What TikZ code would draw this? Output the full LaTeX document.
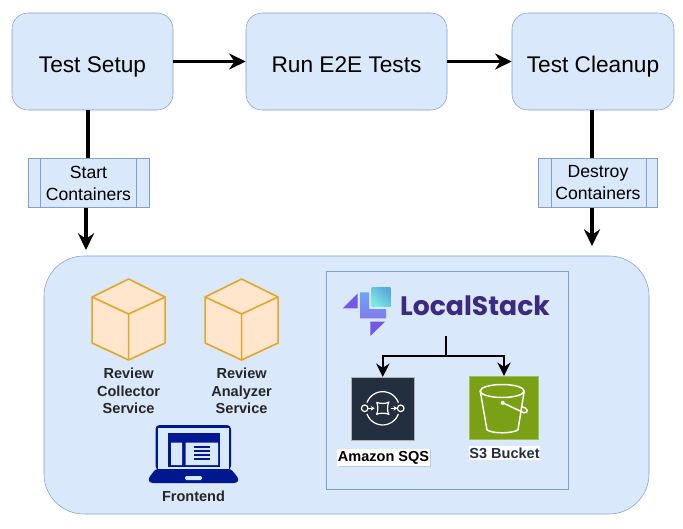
\documentclass[tikz,border=0pt]{standalone}
\usepackage{fontspec}
\setmainfont{Liberation Sans}
\newfontfamily\logofont{Poppins}
\usetikzlibrary{arrows.meta,calc,shadows}
\definecolor{boxfill}{HTML}{DAE8FC}
\definecolor{boxline}{HTML}{7E9FCF}
\definecolor{cubefill}{HTML}{FFE6CC}
\definecolor{cubeline}{HTML}{E3A62C}
\definecolor{laptop}{HTML}{00188F}
\definecolor{sqsdark}{HTML}{232F3E}
\definecolor{sthree}{HTML}{7AA116}
\definecolor{logotext}{HTML}{3B2A7E}
\definecolor{logotri}{HTML}{7558E6}
\definecolor{logoblue}{HTML}{6FA4F8}
\definecolor{logoviolet}{HTML}{7F7CEE}
\definecolor{logoaqua}{HTML}{7CE8E2}
\definecolor{logosky}{HTML}{58A8DC}
\begin{document}
\begin{tikzpicture}[
        x=0.75pt, y=-0.75pt,
        stage/.style={draw=boxline, fill=boxfill, rounded corners=12pt, minimum height=72.75pt, text height=20pt, text depth=3.5pt, font=\fontsize{17}{19}\selectfont},
        subproc/.style={draw=boxline, fill=boxfill, minimum height=36.75pt, align=center, font=\fontsize{13.2}{16.5}\selectfont},
        flow/.style={-{Stealth[length=12.5pt,width=12pt]}, line width=2.4pt},
        plain/.style={line width=2.4pt},
        tree/.style={-{Stealth[length=10pt,width=10pt]}, line width=1.5pt},
        caption/.style={font=\fontsize{10.9}{13}\selectfont\bfseries, align=center, text=black!85}
    ]
        \useasboundingbox (0,0) rectangle (683,529);

        % Top row of stages
        \node[stage, minimum width=120.75pt] (setup) at (92.5,61.5) {Test Setup};
        \node[stage, minimum width=150.75pt] (run) at (346.5,61.5) {Run E2E Tests};
        \node[stage, minimum width=121.5pt] (cleanup) at (593,61.5) {Test Cleanup};

        % Container steps
        \node[subproc, minimum width=90.75pt] (start) at (88.5,183) {Start\\Containers};
        \node[subproc, minimum width=89.25pt] (destroy) at (598,183) {Destroy\\Containers};
        \draw[boxline] (40,158) -- (40,207) (136,158) -- (136,207);
        \draw[boxline] (551,158) -- (551,207) (646,158) -- (646,207);

        % Environment
        \node[draw=boxline, fill=boxfill, rounded corners=30pt, minimum width=453.75pt, minimum height=193.5pt] (env) at (346.5,385) {};
        \node[draw=boxline, fill=boxfill, minimum width=181.5pt, minimum height=163.5pt] (stack) at (447,380) {};

        % Connect the stages
        \draw[flow] (setup) -- (run);
        \draw[flow] (run) -- (cleanup);
        \draw[plain] (88,110) coordinate (setupout) -- (start.north -| setupout);
        \draw[plain] (592,110) coordinate (cleanout) -- (destroy.north -| cleanout);
        \coordinate (startin) at (86,250);
        \coordinate (destroyin) at (592,246);
        \draw[flow] (start.south -| startin) -- (startin);
        \draw[flow] (destroy.south -| destroyin) -- (destroyin);

        % Services
        \foreach \cx/\name/\label in {128.6/collector/Collector, 241.6/analyzer/Analyzer} {
            \begin{scope}[shift={(\cx,0)}]
                \draw[cubeline, fill=cubefill, line width=1.2pt, line join=round]
                    (0,279) -- (36.5,297) -- (36.5,343) -- (0,360) -- (-36.5,343) -- (-36.5,297) -- cycle;
                \draw[cubeline, line width=1.2pt, line join=round]
                    (-36.5,297) -- (0,314) -- (36.5,297) (0,314) -- (0,360);
                \node[caption] (\name) at (0,391) {Review\\\label\\Service};
            \end{scope}
        }

        % Frontend laptop
        \fill[laptop, rounded corners=3pt] (155.5,470) -- (155.5,425) -- (231,425) -- (231,470) -- cycle;
        \fill[boxfill] (158,428) rectangle (228.5,470);
        \fill[laptop, rounded corners=2pt] (155.5,469) -- (231,469) -- (239,479) -- (237,483) -- (150,483) -- (148,479) -- cycle;
        \fill[boxfill, rounded corners=1pt] (185,476) rectangle (202,480);
        \fill[laptop] (168,432.5) rectangle (220,467);
        \fill[boxfill] (171,442.5) rectangle (182,465) (185.5,442.5) rectangle (218,465);
        \foreach \ly in {445.5,449.7,453.9,458.1} {
            \fill[laptop] (194,\ly) rectangle (210,\ly+2.2);
        }
        \node[caption] (frontend) at (193.5,496) {Frontend};

        % LocalStack logo
        \fill[logotri] (342.7,308.3) -- (357.5,293.5) -- (357.5,308.3) -- cycle;
        \fill[logotri] (370.3,321.7) -- (385,321.7) -- (370.3,336) -- cycle;
        \shade[top color=logoblue, bottom color=logoviolet] (360,292.3) -- (369,292.3) -- (369,309) -- (386,309) -- (386,318.3) -- (360,318.3) -- cycle;
        \shade[top color=logosky, bottom color=logoaqua, shading angle=-45] (371.7,287.7) rectangle (390.7,306.3);
        \node[font=\logofont\bfseries\fontsize{20}{22}\selectfont, text=logotext, inner sep=0pt] (logo) at (475,306) {LocalStack};

        % Amazon SQS icon
        \node[fill=sqsdark, draw=gray!60, minimum size=47.5pt, inner sep=0pt] (sqs) at (382.8,408.8) {};
        \begin{scope}[shift={(382.7,408.3)}, white, line width=0.9pt]
            \draw (-15.7,-5.7) arc (200:340:16.7);
            \draw (-15.7,5.7) arc (160:20:16.7);
            \draw (-18,0) circle (3.3) (18,0) circle (3.3);
            \draw (-6,-6) .. controls (-3,-4.5) and (3,-4.5) .. (6,-6)
                .. controls (4.5,-3) and (4.5,3) .. (6,6)
                .. controls (3,4.5) and (-3,4.5) .. (-6,6)
                .. controls (-4.5,3) and (-4.5,-3) .. (-6,-6);
            \draw[-{Stealth[length=3pt,width=3.5pt]}] (-14.7,0) -- (-8,0);
            \draw[-{Stealth[length=3pt,width=3.5pt]}] (8,0) -- (14.7,0);
        \end{scope}

        % S3 icon
        \node[fill=sthree, draw=sthree!70!white, minimum size=47.5pt, minimum width=52pt, inner sep=0pt] (bucket) at (504,407.8) {};
        \begin{scope}[shift={(bucket.center)}, white, line width=1.1pt]
            \draw (-1.8,-16.8) ellipse (22 and 6.5);
            \draw (-23.8,-16.8) -- (-17,22) .. controls (-12,26) and (8,26) .. (14,22) -- (20.2,-16.8);
            \fill (-1.3,-5) circle (2);
            \draw (-1.3,-5) -- (20,5) .. controls (25,5) and (24,0) .. (18,-1);
        \end{scope}

        % Labels under the icons
        \node[fill=white, drop shadow={shadow xshift=1pt, shadow yshift=-1pt, opacity=0.3}, font=\fontsize{10.9}{13}\selectfont\bfseries, inner xsep=0.5pt, inner ysep=1.5pt] (sqslabel) at (383.5,457.5) {Amazon SQS};
        \node[fill=white, text=sqsdark, font=\fontsize{10.9}{13}\selectfont\bfseries, inner xsep=0.5pt, inner ysep=1.5pt] (bucketlabel) at (504.5,453) {S3 Bucket};

        % Branch out of LocalStack
        \coordinate (branch) at (446,356);
        \draw[line width=1.5pt] (446,336) coordinate (logoout) -- (branch);
        \draw[tree] (branch) -| (sqs.north);
        \draw[tree] (branch) -| (bucket.north);
    \end{tikzpicture}
\end{document}
